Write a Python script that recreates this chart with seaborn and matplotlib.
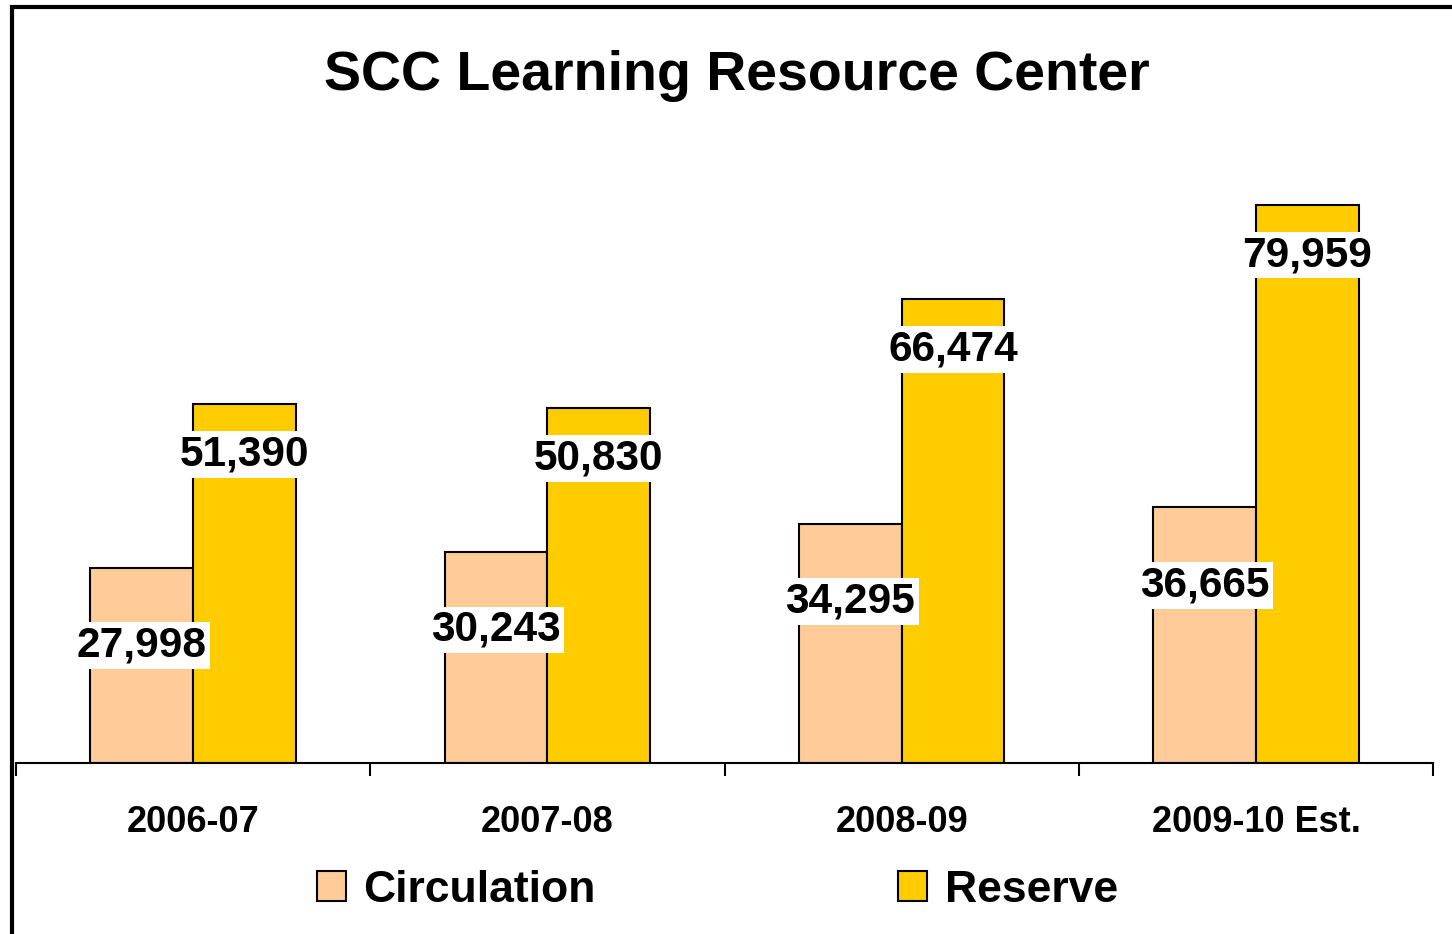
import pandas as pd
import numpy as np
import matplotlib
matplotlib.use("Agg")
import matplotlib.pyplot as plt
from matplotlib.patches import Rectangle
from matplotlib.ticker import FixedLocator
import seaborn as sns

# chart data
years = ["2006-07", "2007-08", "2008-09", "2009-10 Est."]
circulation = [27998, 30243, 34295, 36665]
reserve = [51390, 50830, 66474, 79959]
series = ["Circulation", "Reserve"]
colors = ["#FFCC99", "#FFCC00"]

df = pd.DataFrame({
    "year": years * 2,
    "series": [series[0]] * len(years) + [series[1]] * len(years),
    "value": circulation + reserve,
})

sns.set_style("white")
plt.rcParams["font.family"] = ["Liberation Sans", "DejaVu Sans"]
plt.rcParams["font.weight"] = "bold"
plt.rcParams["text.color"] = "black"
plt.rcParams["xtick.color"] = "black"

fig = plt.figure(figsize=(14.52, 9.34), dpi=100)
ax = fig.add_axes([0.011, 0.1831, 0.976, 0.6724])

sns.barplot(data=df, x="year", y="value", hue="series", palette=colors,
            saturation=1, width=0.58, gap=0, edgecolor="black", linewidth=1.5,
            legend=False, ax=ax)

ax.set_xlim(-0.5, len(years) - 0.5)
ax.set_ylim(0, 90000)
ax.set_xlabel("")
ax.set_ylabel("")
ax.set_yticks([])
for s in ["top", "right", "left"]:
    ax.spines[s].set_visible(False)
ax.spines["bottom"].set_linewidth(1.5)
ax.spines["bottom"].set_color("black")

# ticks between categories, labels centred under groups
ax.xaxis.set_minor_locator(FixedLocator(np.arange(-0.5, len(years), 1.0)))
ax.tick_params(axis="x", which="minor", length=9, width=1.5, direction="out", bottom=True)
ax.tick_params(axis="x", which="major", length=0, pad=30, labelsize=26)
for t in ax.get_xticklabels():
    t.set_fontweight("bold")

# value labels with white boxes
offsets = {0: 78, 1: 50}  # pixels below bar top
for i, cont in enumerate(ax.containers):
    for bar, val in zip(cont, [circulation, reserve][i]):
        x = bar.get_x() + bar.get_width() / 2
        ax.annotate(f"{val:,}", (x, val), xytext=(0, -offsets[i] * 0.72),
                    textcoords="offset points", ha="center", va="center",
                    fontsize=30.5, fontweight="bold",
                    bbox=dict(boxstyle="square,pad=0.08", fc="white", ec="none"))

fig.suptitle("SCC Learning Resource Center", x=0.5076, y=0.919, va="center",
             fontsize=40, fontweight="bold")

handles = [Rectangle((0, 0), 1, 1, fc=c, ec="black", lw=1.5) for c in colors]
fig.legend(handles, series, loc="center", bbox_to_anchor=(0.494, 0.047), ncol=2,
           frameon=False, prop={"size": 32, "weight": "bold"},
           handlelength=0.65, handleheight=0.65, handletextpad=0.4,
           columnspacing=6.8)

# outer frame (only left and top edges visible)
fig.add_artist(Rectangle((0.0083, -0.1), 1.5, 1.0925, transform=fig.transFigure,
                         fill=False, ec="black", lw=3))

fig.savefig("out.png", dpi=100)
